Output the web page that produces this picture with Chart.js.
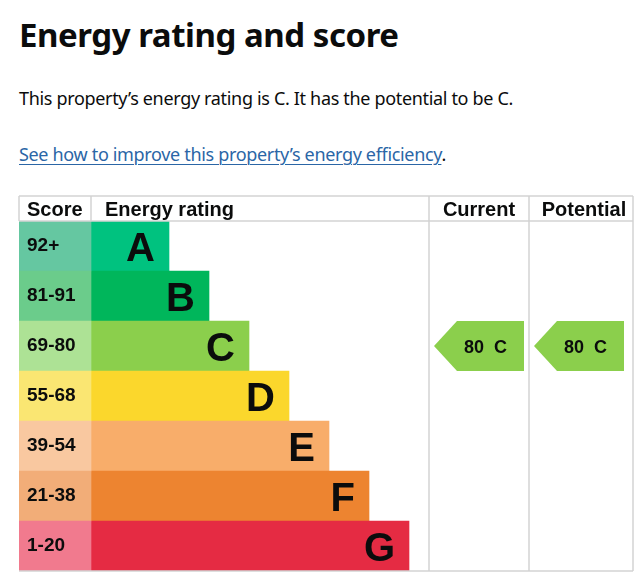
<!DOCTYPE html>
<html>
<head>
<meta charset="utf-8">
<script src="https://cdn.jsdelivr.net/npm/chart.js@4.4.1/dist/chart.umd.min.js"></script>
<style>
  html, body { margin: 0; padding: 0; background: #fff; overflow: hidden; }
  body { width: 644px; height: 583px; position: relative; font-family: "Noto Sans", sans-serif; color: #0b0c0c; }
  h2 { position: absolute; left: 19px; top: 15px; margin: 0; font-size: 33px; line-height: 40px; font-weight: 700; letter-spacing: -0.45px; }
  p { position: absolute; left: 19px; margin: 0; font-size: 18px; line-height: 24px; letter-spacing: -0.33px; }
  #summary { top: 86px; }
  #improve { top: 142px; }
  #improve a { color: #2b66a6; text-decoration: underline; text-underline-offset: 3px; text-decoration-thickness: 1px; }
  #chartWrap { position: absolute; left: 0; top: 180px; width: 644px; height: 403px; }
</style>
</head>
<body>
<h2>Energy rating and score</h2>
<p id="summary">This property’s energy rating is C. It has the potential to be C.</p>
<p id="improve"><a href="#">See how to improve this property’s energy efficiency</a>.</p>
<div id="chartWrap"><canvas id="epc-chart"></canvas></div>

<script>
// EPC bands
// ------------------------------
var ratings = ["A", "B", "C", "D", "E", "F", "G"];
var scoreRanges = ["92+", "81-91", "69-80", "55-68", "39-54", "21-38", "1-20"];
// bar length of each band (scale units, score column included)
var bandLengths = [3.75, 4.75, 5.75, 6.75, 7.75, 8.75, 9.75];
var scoreColumn = 1.8;

var currentScore = 80, currentRating = "C";
var potentialScore = 80, potentialRating = "C";

var bandColors = ["#00c27f", "#00b65b", "#8bcf4c", "#fbd72c", "#f8ad6a", "#ed8430", "#e52b43"];
var scoreColors = ["#65c7a1", "#6bcc8b", "#ade295", "#fae672", "#f9c8a0", "#f2ad78", "#f17a8e"];
var lineColor = "#d3d3d3";

// column edges on the x scale
var cols = { current: [10.25, 12.75], potential: [12.75, 15.35] };

function rowData(rating, range) {
    return ratings.map(function (r) { return r === rating ? range : null; });
}

// Draws the header, grid, letters and arrows
var epcPlugin = {
    id: "epcTable",
    afterDatasetsDraw: function (chart) {
        var ctx = chart.ctx;
        var area = chart.chartArea;
        var x = chart.scales.x, y = chart.scales.y;
        var top = area.top - 25;
        ctx.save();

        // score labels and band letters
        var bands = chart.getDatasetMeta(1).data;
        bands.forEach(function (bar, i) {
            ctx.fillStyle = "#0b0c0c";
            ctx.textAlign = "left";
            ctx.font = "bold 19px 'Liberation Sans', Arial";
            ctx.fillText(scoreRanges[i], x.getPixelForValue(0) + 8, bar.y + 5);
            ctx.textAlign = "right";
            ctx.font = "bold 40px 'Liberation Sans', Arial";
            ctx.fillText(ratings[i], bar.x - 14, bar.y + 14.5);
        });

        // grid lines
        ctx.strokeStyle = lineColor;
        ctx.lineWidth = 1.5;
        ctx.beginPath();
        ctx.moveTo(area.left, top); ctx.lineTo(area.right, top);
        ctx.moveTo(area.left, area.top); ctx.lineTo(area.right, area.top);
        ctx.moveTo(area.left, area.bottom); ctx.lineTo(area.right, area.bottom);
        ctx.moveTo(area.left, top); ctx.lineTo(area.left, area.top);
        ctx.moveTo(x.getPixelForValue(scoreColumn), top); ctx.lineTo(x.getPixelForValue(scoreColumn), area.top);
        [cols.current[0], cols.potential[0]].forEach(function (v) {
            ctx.moveTo(x.getPixelForValue(v), top); ctx.lineTo(x.getPixelForValue(v), area.bottom);
        });
        ctx.moveTo(area.right, top); ctx.lineTo(area.right, area.bottom);
        ctx.stroke();

        // header
        ctx.fillStyle = "#0b0c0c";
        ctx.font = "bold 20px 'Liberation Sans', Arial";
        ctx.textAlign = "left";
        ctx.fillText("Score", area.left + 8, area.top - 5);
        ctx.fillText("Energy rating", x.getPixelForValue(scoreColumn) + 14, area.top - 5);
        ctx.textAlign = "center";
        ctx.fillText("Current", x.getPixelForValue((cols.current[0] + cols.current[1]) / 2), area.top - 5);
        ctx.fillText("Potential", x.getPixelForValue((cols.potential[0] + cols.potential[1]) / 2) + 3, area.top - 5);

        // arrows
        chart.data.datasets.forEach(function (ds, di) {
            if (!ds.arrow) return;
            chart.getDatasetMeta(di).data.forEach(function (el, i) {
                if (ds.data[i] === null) return;
                var p = el.getProps(["x", "y", "base", "height"], true);
                var t = p.y - p.height / 2, b = p.y + p.height / 2;
                var tip = p.height * 0.46;
                ctx.fillStyle = bandColors[i];
                ctx.beginPath();
                ctx.moveTo(p.base, p.y);
                ctx.lineTo(p.base + tip, t);
                ctx.lineTo(p.x, t);
                ctx.lineTo(p.x, b);
                ctx.lineTo(p.base + tip, b);
                ctx.closePath();
                ctx.fill();
                ctx.fillStyle = "#0b0c0c";
                ctx.font = "bold 18px 'Liberation Sans', Arial";
                ctx.textAlign = "center";
                ctx.fillText(ds.score + "  " + ratings[i], (p.base + tip + p.x) / 2 - 5, p.y + 6.5);
            });
        });
        ctx.restore();
    }
};

// Chart Data
var chartData = {
    labels: ratings,
    datasets: [{
        label: "Score",
        data: ratings.map(function () { return [0, scoreColumn]; }),
        backgroundColor: scoreColors
    }, {
        label: "Energy rating",
        data: bandLengths.map(function (v) { return [scoreColumn, v]; }),
        backgroundColor: bandColors
    }, {
        label: "Current",
        arrow: true,
        score: currentScore,
        data: rowData(currentRating, [cols.current[0] + 0.125, cols.current[1] - 0.125]),
        backgroundColor: "rgba(0,0,0,0)"
    }, {
        label: "Potential",
        arrow: true,
        score: potentialScore,
        data: rowData(potentialRating, [cols.potential[0] + 0.125, cols.potential[1] - 0.225]),
        backgroundColor: "rgba(0,0,0,0)"
    }]
};

// Chart Options
var chartOptions = {
    indexAxis: "y",
    responsive: true,
    maintainAspectRatio: false,
    animation: false,
    events: [],
    layout: { padding: { left: 19, right: 11, top: 41, bottom: 12 } },
    datasets: { bar: { grouped: false, barPercentage: 1, categoryPercentage: 1, borderWidth: 0 } },
    scales: {
        x: { display: false, min: 0, max: 15.35 },
        y: { display: false }
    },
    plugins: { legend: { display: false }, tooltip: { enabled: false } }
};

var config = {
    type: "bar",
    options: chartOptions,
    data: chartData,
    plugins: [epcPlugin]
};

// Create the chart
var epcChart = new Chart(document.getElementById("epc-chart"), config);
</script>
</body>
</html>
